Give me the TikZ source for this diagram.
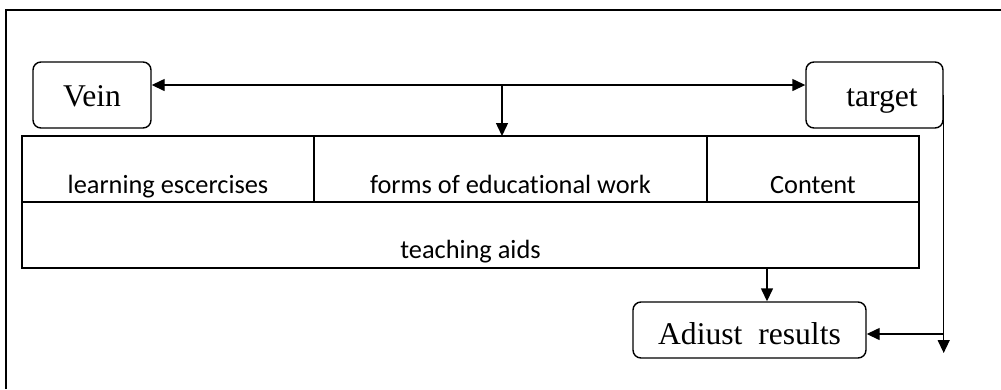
\documentclass[tikz,border=0pt]{standalone}
\usepackage{fontspec}
\setmainfont{Liberation Serif}
\newfontfamily\cellfont[Ligatures=NoCommon]{Carlito}
\usetikzlibrary{arrows.meta,positioning}

\begin{document}
\begin{tikzpicture}[line width=0.8pt,>={Triangle[length=0.26cm,width=0.24cm]},
  roundbox/.style={draw,rounded corners=0.16cm,inner sep=0pt,font=\fontsize{18}{20}\selectfont},
  cell/.style={draw,inner sep=0pt,outer sep=0pt,font=\cellfont\fontsize{15}{17}\selectfont}]
\useasboundingbox (0,0) rectangle (20.02,-7.78);
\draw[line width=1pt] (0.12,-7.78) -- (0.12,-0.2) -- (20.02,-0.2);

\node[roundbox,minimum width=2.36cm,text height=0.88cm,text depth=0.44cm] (vein) at (1.84,-1.9) {Vein};
\node[roundbox,minimum width=2.74cm,text height=0.88cm,text depth=0.44cm] (target) at (17.49,-1.9) {\hspace*{0.3cm}target};

\node[cell,minimum width=5.84cm,text height=1.14cm,text depth=0.18cm] (exercises) at (3.36,-3.38) {learning escercises};
\node[cell,minimum width=7.86cm,text height=1.14cm,text depth=0.18cm,right=0pt of exercises] (forms) {forms of educational work};
\node[cell,minimum width=4.24cm,text height=1.14cm,text depth=0.18cm,right=0pt of forms] (content) {Content};
\node[cell,minimum width=17.94cm,text height=1.12cm,text depth=0.2cm,anchor=north west] (aids) at (exercises.south west) {teaching aids};

\node[roundbox,minimum width=4.66cm,text height=0.84cm,text depth=0.28cm] (adjust) at (14.99,-6.6) {Adiust\ \ results};

\coordinate (hub) at (10.04,-1.7);
\coordinate (down) at (15.34,-5.36);
\coordinate (tail) at (target.east |- 0,-7.06);
\coordinate (fork) at (target.east |- 0,-6.68);

\draw[<->] (vein.east |- hub) -- (target.west |- hub);
\draw[->] (hub) -- (hub |- forms.north);
\draw[->] (down) -- (down |- adjust.north);
\draw[->] (target.east) -- (tail);
\draw[->] (fork) -- (adjust.east |- fork);
\end{tikzpicture}
\end{document}
